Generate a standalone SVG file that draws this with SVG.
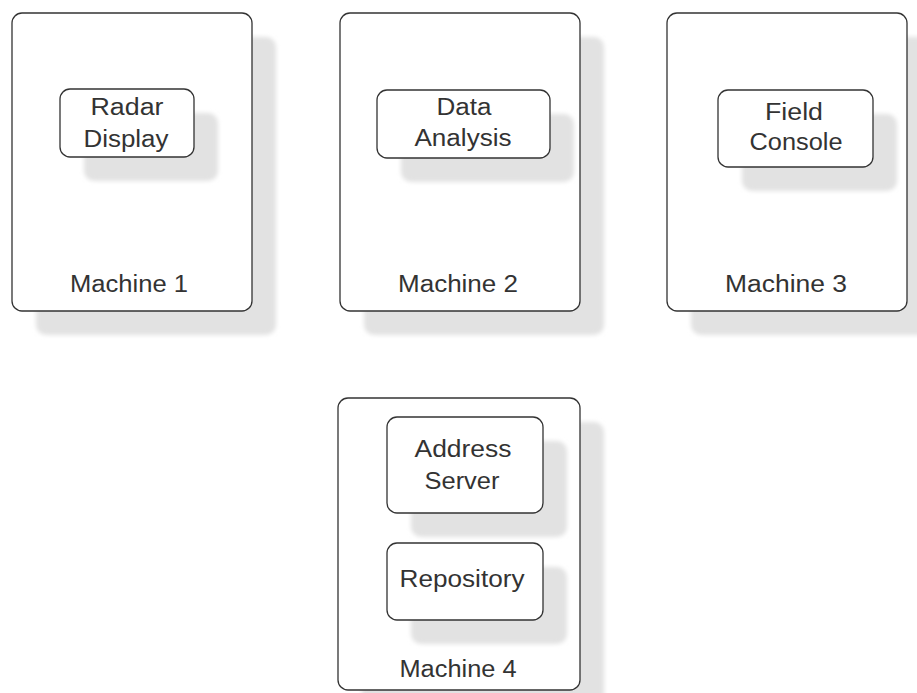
<svg xmlns="http://www.w3.org/2000/svg" width="917" height="693" viewBox="0 0 917 693">
<defs>
<filter id="blur" x="-10%" y="-10%" width="120%" height="120%"><feGaussianBlur stdDeviation="2"/></filter>
</defs>
<style>
.shadow{fill:#e2e2e2;filter:url(#blur)}
.box{fill:#fff;stroke:#333;stroke-width:1.3}
.t{font-family:"Liberation Sans",Arial,sans-serif;font-size:23px;fill:#333;text-anchor:middle}
</style>
<rect width="917" height="693" fill="#fff"/>
<g id="machine1">
<rect class="shadow" x="36" y="37" width="240" height="298" rx="10"/>
<rect class="box" x="12" y="13" width="240" height="298" rx="10"/>
<text class="t" x="129" y="292" textLength="118" lengthAdjust="spacingAndGlyphs">Machine 1</text>
</g>
<g id="radar-display">
<rect class="shadow" x="84" y="113" width="134" height="68" rx="10"/>
<rect class="box" x="60" y="89" width="134" height="68" rx="10"/>
<text class="t" x="127" y="115" textLength="73" lengthAdjust="spacingAndGlyphs">Radar</text>
<text class="t" x="126" y="147" textLength="85" lengthAdjust="spacingAndGlyphs">Display</text>
</g>
<g id="machine2">
<rect class="shadow" x="364" y="37" width="240" height="298" rx="10"/>
<rect class="box" x="340" y="13" width="240" height="298" rx="10"/>
<text class="t" x="458" y="292" textLength="120" lengthAdjust="spacingAndGlyphs">Machine 2</text>
</g>
<g id="data-analysis">
<rect class="shadow" x="401" y="114" width="173" height="68" rx="10"/>
<rect class="box" x="377" y="90" width="173" height="68" rx="10"/>
<text class="t" x="464" y="115" textLength="55" lengthAdjust="spacingAndGlyphs">Data</text>
<text class="t" x="463" y="146" textLength="97" lengthAdjust="spacingAndGlyphs">Analysis</text>
</g>
<g id="machine3">
<rect class="shadow" x="691" y="37" width="240" height="298" rx="10"/>
<rect class="box" x="667" y="13" width="240" height="298" rx="10"/>
<text class="t" x="786" y="292" textLength="122" lengthAdjust="spacingAndGlyphs">Machine 3</text>
</g>
<g id="field-console">
<rect class="shadow" x="742" y="114" width="155" height="77" rx="10"/>
<rect class="box" x="718" y="90" width="155" height="77" rx="10"/>
<text class="t" x="794" y="120" textLength="58" lengthAdjust="spacingAndGlyphs">Field</text>
<text class="t" x="796" y="150" textLength="93" lengthAdjust="spacingAndGlyphs">Console</text>
</g>
<g id="machine4">
<rect class="shadow" x="362" y="422" width="242" height="300" rx="10"/>
<rect class="box" x="338" y="398" width="242" height="292" rx="10"/>
<text class="t" x="458" y="677" textLength="117" lengthAdjust="spacingAndGlyphs">Machine 4</text>
</g>
<g id="address-server">
<rect class="shadow" x="411" y="441" width="156" height="96" rx="10"/>
<rect class="box" x="387" y="417" width="156" height="96" rx="10"/>
<text class="t" x="463" y="457" textLength="97" lengthAdjust="spacingAndGlyphs">Address</text>
<text class="t" x="462" y="489" textLength="75" lengthAdjust="spacingAndGlyphs">Server</text>
</g>
<g id="repository">
<rect class="shadow" x="411" y="567" width="156" height="77" rx="10"/>
<rect class="box" x="387" y="543" width="156" height="77" rx="10"/>
<text class="t" x="462" y="587" textLength="125" lengthAdjust="spacingAndGlyphs">Repository</text>
</g>
<g id="connectors"/>
</svg>
